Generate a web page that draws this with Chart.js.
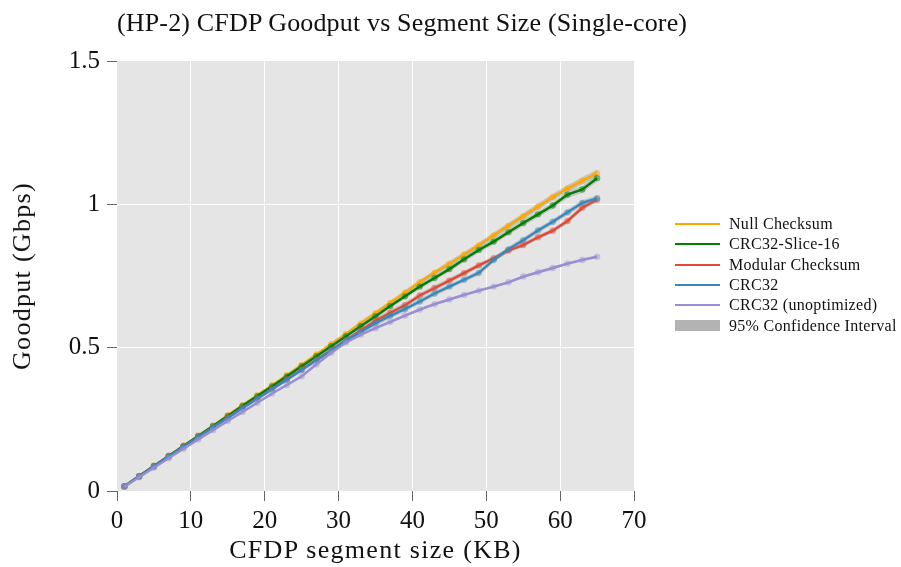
<!DOCTYPE html>
<html>
<head>
<meta charset="utf-8">
<script src="https://cdn.jsdelivr.net/npm/chart.js@4.4.1/dist/chart.umd.min.js"></script>
<style>
  html, body { margin: 0; padding: 0; background: #fff; overflow: hidden; }
  #stage { position: absolute; left: 0; top: 0; width: 901px; height: 567px;
           font-family: "Liberation Serif", serif; color: #111; }
  #chartBox { position: absolute; left: 0; top: 0; width: 901px; height: 567px; }
  .label { position: absolute; white-space: nowrap; line-height: 30px; }
  #title { left: 117px; top: 8px; font-size: 26px; letter-spacing: 0.16px; }
  #xTitle { left: 117px; width: 517px; top: 535px; text-align: center; font-size: 26px; letter-spacing: 1.3px; }
  #yTitle { left: 22px; top: 276px; font-size: 26px; letter-spacing: 1.3px;
            transform: translate(-50%, -50%) rotate(-90deg); }
  #legend { position: absolute; left: 675px; top: 214px; font-size: 16px; letter-spacing: 0.3px; }
  .row { height: 20.3px; display: flex; align-items: center; white-space: nowrap; }
  .swatch { width: 45px; margin-right: 9px; }
</style>
</head>
<body>
<div id="stage">
  <div id="chartBox"><canvas id="goodput"></canvas></div>
  <div id="title" class="label">(HP-2) CFDP Goodput vs Segment Size (Single-core)</div>
  <div id="xTitle" class="label">CFDP segment size (KB)</div>
  <div id="yTitle" class="label">Goodput (Gbps)</div>
  <div id="legend"></div>
</div>
<script>
// segment sizes in KB
const sizes = [1, 3, 5, 7, 9, 11, 13, 15, 17, 19, 21, 23, 25, 27, 29, 31, 33,
               35, 37, 39, 41, 43, 45, 47, 49, 51, 53, 55, 57, 59, 61, 63, 65];

// mean goodput (Gbps) per checksum variant
const nullChecksum = [0.017, 0.052, 0.088, 0.123, 0.158, 0.193, 0.228, 0.264, 0.299, 0.334, 0.369,
                      0.404, 0.440, 0.476, 0.512, 0.548, 0.584, 0.620, 0.656, 0.692, 0.728, 0.761,
                      0.792, 0.824, 0.857, 0.891, 0.925, 0.958, 0.992, 1.025, 1.055, 1.082, 1.108];
const crc32Slice16 = [0.017, 0.052, 0.087, 0.122, 0.157, 0.192, 0.227, 0.262, 0.297, 0.331, 0.365,
                      0.400, 0.435, 0.470, 0.505, 0.540, 0.575, 0.610, 0.645, 0.679, 0.713, 0.743,
                      0.774, 0.808, 0.841, 0.870, 0.903, 0.935, 0.965, 0.996, 1.034, 1.052, 1.091];
const modularChecksum = [0.016, 0.051, 0.086, 0.120, 0.154, 0.188, 0.222, 0.256, 0.290, 0.323, 0.356,
                         0.390, 0.424, 0.458, 0.492, 0.526, 0.560, 0.594, 0.622, 0.648, 0.682, 0.708,
                         0.734, 0.760, 0.787, 0.812, 0.839, 0.858, 0.885, 0.908, 0.942, 0.988, 1.016];
const crc32 = [0.016, 0.051, 0.086, 0.120, 0.154, 0.188, 0.222, 0.255, 0.289, 0.322, 0.355,
               0.388, 0.422, 0.456, 0.490, 0.525, 0.555, 0.585, 0.611, 0.635, 0.661, 0.689,
               0.713, 0.737, 0.761, 0.806, 0.843, 0.875, 0.909, 0.939, 0.972, 1.005, 1.021];
const crc32Unoptimized = [0.015, 0.048, 0.081, 0.114, 0.147, 0.180, 0.212, 0.244, 0.276, 0.308, 0.340,
                          0.370, 0.400, 0.442, 0.482, 0.518, 0.545, 0.568, 0.590, 0.612, 0.633, 0.652,
                          0.668, 0.684, 0.699, 0.713, 0.728, 0.748, 0.763, 0.778, 0.793, 0.806, 0.817];

// half width of the 95% confidence interval (Gbps)
const ciNull = [0.002, 0.002, 0.003, 0.003, 0.003, 0.004, 0.004, 0.004, 0.005, 0.005, 0.005,
                0.006, 0.006, 0.006, 0.007, 0.007, 0.008, 0.008, 0.008, 0.009, 0.009, 0.009,
                0.010, 0.010, 0.010, 0.011, 0.011, 0.011, 0.012, 0.012, 0.012, 0.013, 0.013];
const ciSlice16 = [0.002, 0.002, 0.002, 0.003, 0.003, 0.003, 0.004, 0.004, 0.004, 0.005, 0.005,
                   0.005, 0.006, 0.006, 0.006, 0.007, 0.007, 0.007, 0.008, 0.008, 0.008, 0.009,
                   0.009, 0.009, 0.010, 0.010, 0.010, 0.011, 0.011, 0.011, 0.012, 0.012, 0.012];
const ciModular = [0.002, 0.002, 0.002, 0.003, 0.003, 0.003, 0.004, 0.004, 0.004, 0.005, 0.005,
                   0.006, 0.006, 0.007, 0.008, 0.008, 0.009, 0.010, 0.010, 0.010, 0.009, 0.009,
                   0.009, 0.008, 0.008, 0.008, 0.008, 0.008, 0.008, 0.008, 0.009, 0.009, 0.009];
const ciCrc32 = [0.002, 0.002, 0.002, 0.003, 0.003, 0.003, 0.004, 0.004, 0.004, 0.005, 0.005,
                 0.006, 0.006, 0.007, 0.007, 0.008, 0.008, 0.009, 0.009, 0.009, 0.009, 0.009,
                 0.008, 0.008, 0.009, 0.009, 0.010, 0.009, 0.009, 0.009, 0.010, 0.010, 0.010];
const ciUnopt = [0.002, 0.002, 0.002, 0.002, 0.003, 0.003, 0.003, 0.003, 0.004, 0.004, 0.004,
                 0.004, 0.005, 0.005, 0.005, 0.005, 0.005, 0.005, 0.005, 0.005, 0.005, 0.005,
                 0.005, 0.005, 0.005, 0.005, 0.005, 0.005, 0.005, 0.005, 0.005, 0.005, 0.005];

const seriesNames = ['Null Checksum', 'CRC32-Slice-16', 'Modular Checksum', 'CRC32', 'CRC32 (unoptimized)'];
const ciLabel = '95% Confidence Interval';
const xTicks = [0, 10, 20, 30, 40, 50, 60, 70];
const yTicks = [0, 0.5, 1, 1.5];
const yTickLabels = ['0', '0.5', '1', '1.5'];

const seriesValues = [nullChecksum, crc32Slice16, modularChecksum, crc32, crc32Unoptimized];
const seriesCi = [ciNull, ciSlice16, ciModular, ciCrc32, ciUnopt];
const colors = ['#FFA500', '#008000', '#E24A33', '#348ABD', '#988ED5'];
const dotColors = ['rgba(255,165,0,0.55)', 'rgba(0,128,0,0.5)', 'rgba(226,74,51,0.5)',
                   'rgba(52,138,189,0.5)', 'rgba(152,142,213,0.45)'];
const bandColor = 'rgba(140,140,140,0.38)';
const serif = '"Liberation Serif", serif';

const toPoints = ys => sizes.map((x, i) => ({ x: x, y: ys[i] }));

const datasets = [];
seriesValues.forEach((vals, s) => {
  const ci = seriesCi[s];
  datasets.push({
    data: toPoints(vals.map((v, i) => v - ci[i])),
    borderWidth: 0, pointRadius: 0, fill: false, order: 100
  });
  datasets.push({
    data: toPoints(vals.map((v, i) => v + ci[i])),
    borderWidth: 0, pointRadius: 0, fill: '-1', backgroundColor: bandColor, order: 100
  });
});
seriesValues.forEach((vals, s) => {
  datasets.push({
    label: seriesNames[s],
    data: toPoints(vals),
    borderColor: colors[s],
    borderWidth: 2.4,
    pointRadius: 3.2,
    pointBorderWidth: 0,
    pointBackgroundColor: dotColors[s],
    fill: false,
    order: 5 - s
  });
});

// grey panel behind the data
const panel = {
  id: 'panel',
  beforeDraw(chart) {
    const a = chart.chartArea, ctx = chart.ctx;
    ctx.save();
    ctx.fillStyle = '#E5E5E5';
    ctx.fillRect(a.left, a.top, a.right - a.left, a.bottom - a.top);
    ctx.restore();
  }
};

const edgeless = last => c => (c.tick && (c.tick.value === 0 || c.tick.value === last)) ? 'rgba(0,0,0,0)' : '#ffffff';

new Chart(document.getElementById('goodput'), {
  type: 'line',
  data: { datasets: datasets },
  plugins: [panel],
  options: {
    responsive: true,
    maintainAspectRatio: false,
    animation: false,
    layout: { padding: { left: 0, top: 61, right: 267, bottom: 0 } },
    plugins: { legend: { display: false }, title: { display: false }, tooltip: { enabled: false } },
    elements: { line: { tension: 0 } },
    scales: {
      x: {
        type: 'linear', min: 0, max: 70,
        afterBuildTicks: axis => { axis.ticks = xTicks.map(v => ({ value: v })); },
        afterFit: axis => { axis.height = 76; },
        border: { display: false },
        grid: { color: edgeless(70), lineWidth: 1, tickColor: '#666', tickLength: 10, tickWidth: 1 },
        ticks: { font: { family: serif, size: 25 }, color: '#111', padding: 5, maxRotation: 0, autoSkip: false }
      },
      y: {
        type: 'linear', min: 0, max: 1.5,
        afterBuildTicks: axis => { axis.ticks = yTicks.map(v => ({ value: v })); },
        afterFit: axis => { axis.width = 117; },
        border: { display: false },
        grid: { color: edgeless(1.5), lineWidth: 1, tickColor: '#666', tickLength: 10, tickWidth: 1 },
        ticks: { font: { family: serif, size: 25 }, color: '#111', padding: 7,
                 callback: (v, i) => yTickLabels[i] }
      }
    }
  }
});

// legend: one line swatch per series, then the confidence band patch
const legend = document.getElementById('legend');
seriesNames.forEach((name, s) => {
  const row = document.createElement('div');
  row.className = 'row';
  row.innerHTML = '<span class="swatch" style="height:2px;background:' + colors[s] + '"></span>' + name;
  legend.appendChild(row);
});
const ciRow = document.createElement('div');
ciRow.className = 'row';
ciRow.innerHTML = '<span class="swatch" style="height:11px;background:#b3b3b3"></span>' + ciLabel;
legend.appendChild(ciRow);
</script>
</body>
</html>
